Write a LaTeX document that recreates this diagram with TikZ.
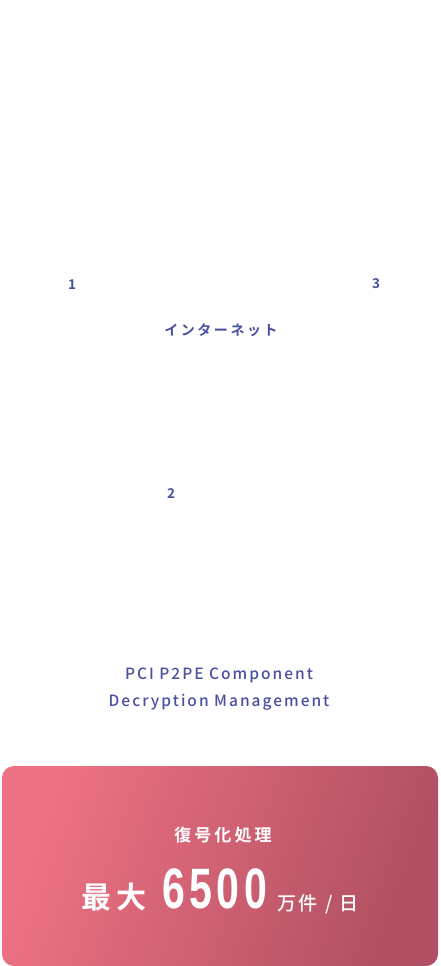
\documentclass[tikz,border=0pt]{standalone}
\usepackage{fontspec}
\newfontfamily\jpfont[LetterSpace=12]{Noto Sans CJK JP Medium}
\newfontfamily\jpbold{Noto Sans CJK JP Bold}
\newfontfamily\latsp[LetterSpace=13]{Noto Sans CJK JP Medium}
\newfontfamily\jpsp[LetterSpace=18]{Noto Sans CJK JP Bold}
\newfontfamily\numfont[LetterSpace=11]{Liberation Sans Bold}
\definecolor{navy}{RGB}{74,80,160}
\definecolor{pinkA}{RGB}{237,114,131}
\definecolor{pinkM}{RGB}{220,103,120}
\definecolor{pinkB}{RGB}{176,80,98}
\tikzset{
  num/.style={text=navy, font=\jpbold\fontsize{13.5}{15}\selectfont, inner sep=0pt},
  lbl/.style={text=navy, inner sep=0pt, align=center},
  wt/.style={text=white, inner sep=0pt}
}
\begin{document}
\begin{tikzpicture}[x=1pt,y=-1pt]
\useasboundingbox (0,0) rectangle (440,966);
\fill[white] (0,0) rectangle (440,966);
\node[num] (n1) at (72,285) {1};
\node[num] (n3) at (376,284) {3};
\node[num] (n2) at (171,494) {2};
\node[lbl, font=\jpsp\fontsize{14}{16}\selectfont] (inet) at (221,330) {インターネット};
\node[lbl, font=\latsp\fontsize{15.5}{27}\selectfont] (pci) at (219,689) {PCI P2PE Component\\Decryption Management};
\shade[left color=pinkA, middle color=pinkM, right color=pinkB, shading angle=70, rounded corners=12pt]
  (2,766) rectangle (438,966);
\node[wt, font=\jpsp\fontsize{17}{19}\selectfont] (fk) at (223,835) {復号化処理};
\node[wt, font=\jpbold\fontsize{30}{32}\selectfont, anchor=base west] (mx) at (81,908) {最\hspace{5pt}大};
\node[wt, anchor=base west] (num) at (162,908) {\scalebox{0.72}[1]{\numfont\fontsize{57}{57}\selectfont 6500}};
\node[wt, font=\jpfont\fontsize{19}{21}\selectfont, anchor=base west] (unit) at (277,910) {万件\hspace{8pt}/\hspace{7pt}日};
\end{tikzpicture}
\end{document}
